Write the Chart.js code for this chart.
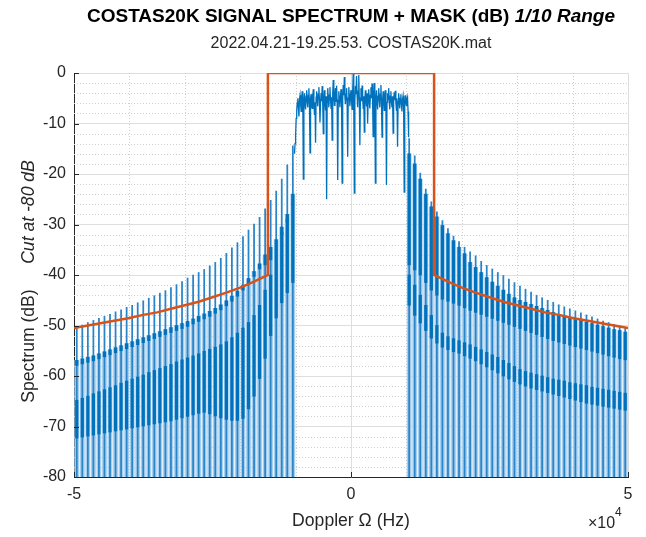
<!DOCTYPE html>
<html>
<head>
<meta charset="utf-8">
<script src="https://cdn.jsdelivr.net/npm/chart.js@4.4.1/dist/chart.umd.min.js"></script>
<style>
  html, body { margin: 0; padding: 0; background: #fff; }
  canvas { display: block; }
</style>
</head>
<body>
<canvas id="myChart" width="646" height="537"></canvas>
<script>
const FLOOR_DB = -80;
const KHZ = 1000;

// comb lines outside the main lobe (kHz)
const toothKHz = [
  -49.5, -48.5, -47.5, -46.5, -45.5, -44.5, -43.5, -42.5, -41.5, -40.5,
  -39.5, -38.5, -37.5, -36.5, -35.5, -34.5, -33.5, -32.5, -31.5, -30.5,
  -29.5, -28.5, -27.5, -26.5, -25.5, -24.5, -23.5, -22.5, -21.5, -20.5,
  -19.5, -18.5, -17.5, -16.5, -15.5, -14.5, -13.5, -12.5, -11.5, -10.5,
  10.5, 11.5, 12.5, 13.5, 14.5, 15.5, 16.5, 17.5, 18.5, 19.5,
  20.5, 21.5, 22.5, 23.5, 24.5, 25.5, 26.5, 27.5, 28.5, 29.5,
  30.5, 31.5, 32.5, 33.5, 34.5, 35.5, 36.5, 37.5, 38.5, 39.5,
  40.5, 41.5, 42.5, 43.5, 44.5, 45.5, 46.5, 47.5, 48.5, 49.5
];
// top of each comb line (dB)
const toothPeakDb = [
  -50.3, -49.9, -49.4, -49.0, -48.6, -48.2, -47.8, -47.3, -46.9, -46.4,
  -46.0, -45.5, -45.1, -44.6, -44.1, -43.6, -43.1, -42.5, -41.9, -41.3,
  -40.6, -40.0, -39.5, -38.9, -38.2, -37.5, -36.7, -35.7, -34.6, -33.6,
  -32.4, -31.1, -29.9, -28.6, -26.9, -25.2, -23.4, -21.0, -18.2, -14.4,
  -13.0, -16.4, -19.8, -23.0, -25.5, -27.5, -29.2, -30.8, -32.3, -33.4,
  -34.5, -35.4, -36.2, -37.3, -38.1, -38.8, -39.5, -40.1, -40.8, -41.5,
  -42.2, -42.8, -43.4, -44.0, -44.5, -45.0, -45.4, -45.9, -46.3, -46.7,
  -47.1, -47.5, -47.9, -48.3, -48.7, -49.1, -49.4, -49.8, -50.1, -50.4
];
// upper dense band of each line (dB)
const upperTopDb = [
  -56.9, -56.6, -56.3, -56.0, -55.6, -55.2, -54.8, -54.4, -54.0, -53.6,
  -53.2, -52.8, -52.4, -52.0, -51.6, -51.2, -50.8, -50.4, -50.0, -49.6,
  -49.2, -48.7, -48.2, -47.7, -47.2, -46.6, -45.9, -45.1, -44.2, -43.2,
  -42.0, -40.7, -39.3, -37.8, -36.0, -34.5, -33.0, -30.5, -28.0, -24.0,
  -16.0, -18.0, -21.0, -24.0, -26.5, -28.5, -30.2, -31.8, -33.2, -34.5,
  -35.8, -37.5, -38.5, -39.5, -40.5, -41.4, -42.2, -43.0, -43.8, -44.5,
  -45.0, -45.4, -45.8, -46.2, -46.6, -47.0, -47.4, -47.8, -48.1, -48.4,
  -48.7, -49.0, -49.3, -49.6, -49.9, -50.2, -50.5, -50.8, -51.0, -51.3
];
const upperBotDb = [
  -57.9, -57.6, -57.3, -57.0, -56.6, -56.2, -55.8, -55.4, -55.0, -54.6,
  -54.2, -53.8, -53.4, -53.0, -52.6, -52.2, -51.8, -51.4, -51.0, -50.6,
  -50.2, -49.7, -49.2, -48.7, -48.2, -47.6, -46.9, -46.1, -45.2, -44.2,
  -43.0, -41.7, -40.3, -38.8, -38.0, -37.0, -35.0, -32.0, -29.5, -26.0,
  -38.0, -39.0, -40.0, -41.5, -43.0, -44.0, -44.8, -45.2, -45.6, -46.0,
  -46.5, -47.0, -47.4, -47.8, -48.2, -48.6, -49.0, -49.4, -49.8, -50.2,
  -50.6, -51.0, -51.4, -51.8, -52.2, -52.6, -53.0, -53.3, -53.6, -53.9,
  -54.2, -54.5, -54.8, -55.1, -55.4, -55.7, -56.0, -56.3, -56.6, -56.8
];
// lower dense band of each line (dB)
const lowerTopDb = [
  -64.8, -64.4, -64.0, -63.5, -63.1, -62.7, -62.3, -61.9, -61.4, -61.0,
  -60.6, -60.2, -59.8, -59.3, -58.9, -58.5, -58.1, -57.7, -57.2, -56.8,
  -56.4, -56.0, -55.6, -55.1, -54.7, -54.3, -53.8, -53.2, -52.4, -51.5,
  -50.5, -49.4, -48.0, -46.0, -43.0, -40.0, -35.0, -31.5, -29.0, -26.0,
  -40.0, -42.0, -44.0, -46.0, -48.0, -50.0, -51.5, -52.2, -52.6, -53.0,
  -53.4, -53.8, -54.3, -54.8, -55.3, -55.8, -56.3, -56.9, -57.5, -58.1,
  -58.7, -59.1, -59.4, -59.7, -60.0, -60.3, -60.6, -60.8, -61.0, -61.3,
  -61.5, -61.7, -61.9, -62.2, -62.4, -62.6, -62.8, -63.0, -63.2, -63.4
];
const lowerBotDb = [
  -72.3, -72.1, -71.9, -71.7, -71.5, -71.3, -71.1, -70.9, -70.7, -70.5,
  -70.3, -70.1, -69.9, -69.7, -69.5, -69.3, -69.1, -68.9, -68.6, -68.3,
  -68.0, -67.7, -67.4, -67.2, -67.5, -67.9, -68.3, -68.6, -68.8, -68.8,
  -68.4, -66.5, -64.0, -60.5, -56.5, -52.0, -48.5, -45.5, -43.5, -41.5,
  -46.0, -48.0, -49.5, -51.0, -52.5, -53.5, -54.3, -54.8, -55.2, -55.5,
  -56.0, -56.5, -57.0, -57.6, -58.2, -58.8, -59.4, -60.0, -60.6, -61.1,
  -61.6, -62.0, -62.4, -62.7, -63.0, -63.3, -63.6, -63.9, -64.2, -64.5,
  -64.8, -65.1, -65.4, -65.6, -65.8, -66.0, -66.2, -66.4, -66.6, -66.8
];

// main lobe samples [kHz, dB]
const mainLobe = [
  [-10.2, -16.0], [-10.1, -14.0], [-10.0, -12.5], [-9.9, -9.0], [-9.8, -7.5], [-9.7, -5.8],
  [-9.6, -5.0], [-9.5, -6.9], [-9.4, -8.6], [-9.3, -5.2], [-9.2, -4.4], [-9.1, -6.1],
  [-9.0, -7.6], [-8.9, -4.8], [-8.8, -3.6], [-8.7, -6.0], [-8.6, -21.0], [-8.5, -5.6],
  [-8.4, -4.0], [-8.3, -6.2], [-8.2, -7.2], [-8.1, -4.6], [-8.0, -3.4], [-7.9, -5.8],
  [-7.8, -6.8], [-7.7, -4.4], [-7.6, -3.0], [-7.5, -6.4], [-7.4, -15.8], [-7.3, -5.0],
  [-7.2, -4.2], [-7.1, -6.6], [-7.0, -7.0], [-6.9, -4.4], [-6.8, -3.2], [-6.7, -5.6],
  [-6.6, -8.2], [-6.5, -5.8], [-6.4, -13.8], [-6.3, -4.8], [-6.2, -3.6], [-6.1, -5.4],
  [-6.0, -6.6], [-5.9, -4.2], [-5.8, -2.8], [-5.7, -5.2], [-5.6, -9.8], [-5.5, -6.0],
  [-5.4, -4.0], [-5.3, -5.6], [-5.2, -2.6], [-5.1, -6.2], [-5.0, -12.0], [-4.9, -5.4],
  [-4.8, -3.4], [-4.7, -5.8], [-4.6, -7.4], [-4.5, -4.6], [-4.4, -25.0], [-4.3, -5.8],
  [-4.2, -3.0], [-4.1, -5.0], [-4.0, -6.8], [-3.9, -4.4], [-3.8, -2.8], [-3.7, -5.4],
  [-3.6, -7.0], [-3.5, -4.8], [-3.4, -13.3], [-3.3, -4.0], [-3.2, -1.4], [-3.1, -4.6],
  [-3.0, -6.4], [-2.9, -4.2], [-2.8, -3.0], [-2.7, -5.6], [-2.6, -2.5], [-2.5, -6.0],
  [-2.4, -21.2], [-2.3, -5.4], [-2.2, -3.6], [-2.1, -5.2], [-2.0, -6.8], [-1.9, -4.6],
  [-1.8, -3.2], [-1.7, -6.0], [-1.6, -21.8], [-1.5, -5.2], [-1.4, -2.4], [-1.3, -4.4],
  [-1.2, -0.8], [-1.1, -4.8], [-1.0, -6.2], [-0.9, -4.2], [-0.8, -3.0], [-0.7, -5.8],
  [-0.6, -16.6], [-0.5, -5.0], [-0.4, -2.8], [-0.3, -4.6], [-0.2, -6.6], [-0.1, -4.4],
  [0.0, -3.4], [0.1, -5.6], [0.2, -7.2], [0.3, -3.8], [0.4, 0.0], [0.5, -6.0],
  [0.6, -23.8], [0.7, -5.4], [0.8, -2.6], [0.9, -4.2], [1.0, -0.6], [1.1, -4.4],
  [1.2, -6.8], [1.3, -3.6], [1.4, -0.4], [1.5, -5.2], [1.6, -14.3], [1.7, -5.0],
  [1.8, -3.0], [1.9, -5.6], [2.0, -2.5], [2.1, -4.8], [2.2, -7.0], [2.3, -4.6],
  [2.4, -11.7], [2.5, -5.2], [2.6, -3.4], [2.7, -5.4], [2.8, -6.6], [2.9, -4.0],
  [3.0, -10.0], [3.1, -5.0], [3.2, -3.2], [3.3, -5.6], [3.4, -7.0], [3.5, -4.4],
  [3.6, -2.8], [3.7, -5.0], [3.8, -2.1], [3.9, -5.8], [4.0, -12.6], [4.1, -4.6],
  [4.2, -2.0], [4.3, -5.6], [4.4, -21.8], [4.5, -5.2], [4.6, -3.4], [4.7, -5.6],
  [4.8, -7.2], [4.9, -4.6], [5.0, -3.0], [5.1, -5.2], [5.2, -6.8], [5.3, -4.2],
  [5.4, -2.4], [5.5, -5.8], [5.6, -12.7], [5.7, -5.4], [5.8, -3.6], [5.9, -5.6],
  [6.0, -7.4], [6.1, -4.8], [6.2, -3.4], [6.3, -6.0], [6.4, -22.2], [6.5, -5.8],
  [6.6, -4.0], [6.7, -5.2], [6.8, -3.0], [6.9, -5.6], [7.0, -7.2], [7.1, -4.6],
  [7.2, -3.6], [7.3, -5.8], [7.4, -6.8], [7.5, -4.6], [7.6, -11.9], [7.7, -5.2],
  [7.8, -3.8], [7.9, -5.4], [8.0, -3.5], [8.1, -5.8], [8.2, -7.4], [8.3, -5.0],
  [8.4, -14.6], [8.5, -5.6], [8.6, -4.0], [8.7, -5.8], [8.8, -7.0], [8.9, -5.0],
  [9.0, -4.2], [9.1, -6.2], [9.2, -7.6], [9.3, -5.2], [9.4, -4.5], [9.5, -6.4],
  [9.6, -23.6], [9.7, -6.0], [9.8, -4.4], [9.9, -5.8], [10.0, -6.4], [10.1, -5.2],
  [10.2, -4.8], [10.3, -7.6], [10.4, -12.7]
];

// spectral mask
const maskKHz = [
  -50, -47.5, -45, -42.5, -40, -37.5, -35, -32.5, -30, -27.5, -25, -22.5, -20, -17.5, -15,
  -15, 15,
  15, 17.5, 20, 22.5, 25, 27.5, 30, 32.5, 35, 37.5, 40, 42.5, 45, 47.5, 50
];
const maskDb = [
  -50.5, -50.0, -49.5, -49.0, -48.5, -47.9, -47.4, -46.7, -46.0, -45.3, -44.4, -43.5, -42.5, -41.3, -40.0,
  0, 0,
  -40.0, -41.3, -42.5, -43.5, -44.4, -45.3, -46.0, -46.7, -47.4, -47.9, -48.5, -49.0, -49.5, -50.0, -50.5
];

const xTicks = [-50000, 0, 50000];
const yTicks = [0, -10, -20, -30, -40, -50, -60, -70, -80];

const BLUE = '#0072BD';
const MID = '#2a84c8';
const LIGHT = '#a8cfee';
const ORANGE = '#D95319';
const AXIS = '#262626';
const FONT = '"Liberation Sans", Arial, Helvetica, sans-serif';

const comb = (lo, hi) => toothKHz.map((f, i) => ({ x: f * KHZ, y: [lo[i], hi[i]] }));
const floor = toothKHz.map(() => FLOOR_DB);

// dotted minor grid + inward tick marks
const minorGrid = {
  id: 'minorGrid',
  beforeDatasetsDraw(chart) {
    const { ctx, chartArea: a, scales: { x, y } } = chart;
    ctx.save();
    ctx.strokeStyle = '#cfcfcf';
    ctx.lineWidth = 1;
    ctx.setLineDash([1, 2]);
    for (let v = -40000; v <= 40000; v += 10000) {
      if (v === 0) continue;
      const px = Math.round(x.getPixelForValue(v)) + 0.5;
      ctx.beginPath(); ctx.moveTo(px, a.top); ctx.lineTo(px, a.bottom); ctx.stroke();
    }
    for (let v = -78; v <= -2; v += 2) {
      if (v % 10 === 0) continue;
      const py = Math.round(y.getPixelForValue(v)) + 0.5;
      ctx.beginPath(); ctx.moveTo(a.left, py); ctx.lineTo(a.right, py); ctx.stroke();
    }
    ctx.restore();
  },
  afterDatasetsDraw(chart) {
    const { ctx, chartArea: a, scales: { x, y } } = chart;
    ctx.save();
    ctx.strokeStyle = AXIS;
    ctx.lineWidth = 1;
    ctx.beginPath();
    yTicks.forEach(v => {
      const py = Math.round(y.getPixelForValue(v)) + 0.5;
      ctx.moveTo(a.left, py); ctx.lineTo(a.left + 5, py);
    });
    xTicks.forEach(v => {
      const px = Math.round(x.getPixelForValue(v)) + 0.5;
      ctx.moveTo(px, a.bottom); ctx.lineTo(px, a.bottom - 5);
    });
    ctx.stroke();
    ctx.restore();
  }
};

// titles and axis labels with mixed font styles
const labels = {
  id: 'labels',
  afterDraw(chart) {
    const { ctx, chartArea: a } = chart;
    const cx = (a.left + a.right) / 2;
    ctx.save();
    ctx.textBaseline = 'middle';

    const t1 = 'COSTAS20K SIGNAL SPECTRUM + MASK (dB) ';
    const t2 = '1/10 Range';
    ctx.font = 'bold 19px ' + FONT;
    const w1 = ctx.measureText(t1).width;
    ctx.font = 'italic bold 19px ' + FONT;
    const w2 = ctx.measureText(t2).width;
    const tx = cx - (w1 + w2) / 2;
    ctx.fillStyle = '#000';
    ctx.textAlign = 'left';
    ctx.font = 'bold 19px ' + FONT;
    ctx.fillText(t1, tx, 17);
    ctx.font = 'italic bold 19px ' + FONT;
    ctx.fillText(t2, tx + w1, 17);

    ctx.fillStyle = AXIS;
    ctx.textAlign = 'center';
    ctx.font = '16px ' + FONT;
    ctx.fillText('2022.04.21-19.25.53. COSTAS20K.mat', cx, 44);

    ctx.font = '17.6px ' + FONT;
    ctx.fillText('Doppler \u03A9 (Hz)', cx, 521);

    ctx.textAlign = 'left';
    ctx.font = '16px ' + FONT;
    ctx.fillText('\u00D710', 588, 524);
    ctx.font = '12px ' + FONT;
    ctx.fillText('4', 615, 513);

    ctx.save();
    ctx.translate(29, 346);
    ctx.rotate(-Math.PI / 2);
    ctx.textAlign = 'center';
    ctx.font = '17.6px ' + FONT;
    ctx.fillText('Spectrum (dB)', 0, 0);
    ctx.restore();
    ctx.save();
    ctx.translate(29, 212);
    ctx.rotate(-Math.PI / 2);
    ctx.textAlign = 'center';
    ctx.font = 'italic 17.6px ' + FONT;
    ctx.fillText('Cut at -80 dB', 0, 0);
    ctx.restore();

    ctx.restore();
  }
};

const ctx = document.getElementById('myChart').getContext('2d');
new Chart(ctx, {
  type: 'bar',
  data: {
    datasets: [
      {
        type: 'line', label: 'Mask', order: 0,
        data: maskKHz.map((f, i) => ({ x: f * KHZ, y: maskDb[i] })),
        borderColor: ORANGE, borderWidth: 2.5, pointRadius: 0, tension: 0,
        borderJoinStyle: 'miter'
      },
      {
        type: 'line', label: 'Spectrum', order: 1,
        data: mainLobe.map(([f, v]) => ({ x: f * KHZ, y: v })),
        borderColor: BLUE, borderWidth: 1.3, pointRadius: 0, tension: 0
      },
      { label: 'lower', order: 2, data: comb(lowerBotDb, lowerTopDb),
        backgroundColor: BLUE, barThickness: 2.6, grouped: false },
      { label: 'upper', order: 2, data: comb(upperBotDb, upperTopDb),
        backgroundColor: BLUE, barThickness: 2.6, grouped: false },
      { label: 'lines', order: 3, data: comb(floor, toothPeakDb),
        backgroundColor: MID, barThickness: 1.1, grouped: false },
      { label: 'fill', order: 4, data: comb(floor, upperTopDb),
        backgroundColor: LIGHT, barThickness: 4.2, grouped: false }
    ]
  },
  options: {
    responsive: false,
    animation: false,
    devicePixelRatio: 1,
    layout: { padding: { top: 73, right: 18, left: 0, bottom: 0 } },
    plugins: { legend: { display: false }, tooltip: { enabled: false } },
    scales: {
      x: {
        type: 'linear', min: -50000, max: 50000, offset: false,
        afterBuildTicks: s => { s.ticks = xTicks.map(v => ({ value: v })); },
        afterFit: s => { s.height = 60; },
        ticks: {
          callback: v => String(v / 1e4), autoSkip: false, maxRotation: 0,
          color: AXIS, font: { family: FONT, size: 16 }, padding: 8
        },
        grid: { color: '#dedede', drawTicks: false, offset: false },
        border: { color: AXIS, width: 1 }
      },
      y: {
        type: 'linear', min: -80, max: 0,
        afterBuildTicks: s => { s.ticks = yTicks.map(v => ({ value: v })); },
        afterFit: s => { s.width = 74; },
        ticks: { color: AXIS, font: { family: FONT, size: 16 }, padding: 8 },
        grid: { color: '#dedede', drawTicks: false },
        border: { color: AXIS, width: 1 }
      }
    }
  },
  plugins: [minorGrid, labels]
});
</script>
</body>
</html>
